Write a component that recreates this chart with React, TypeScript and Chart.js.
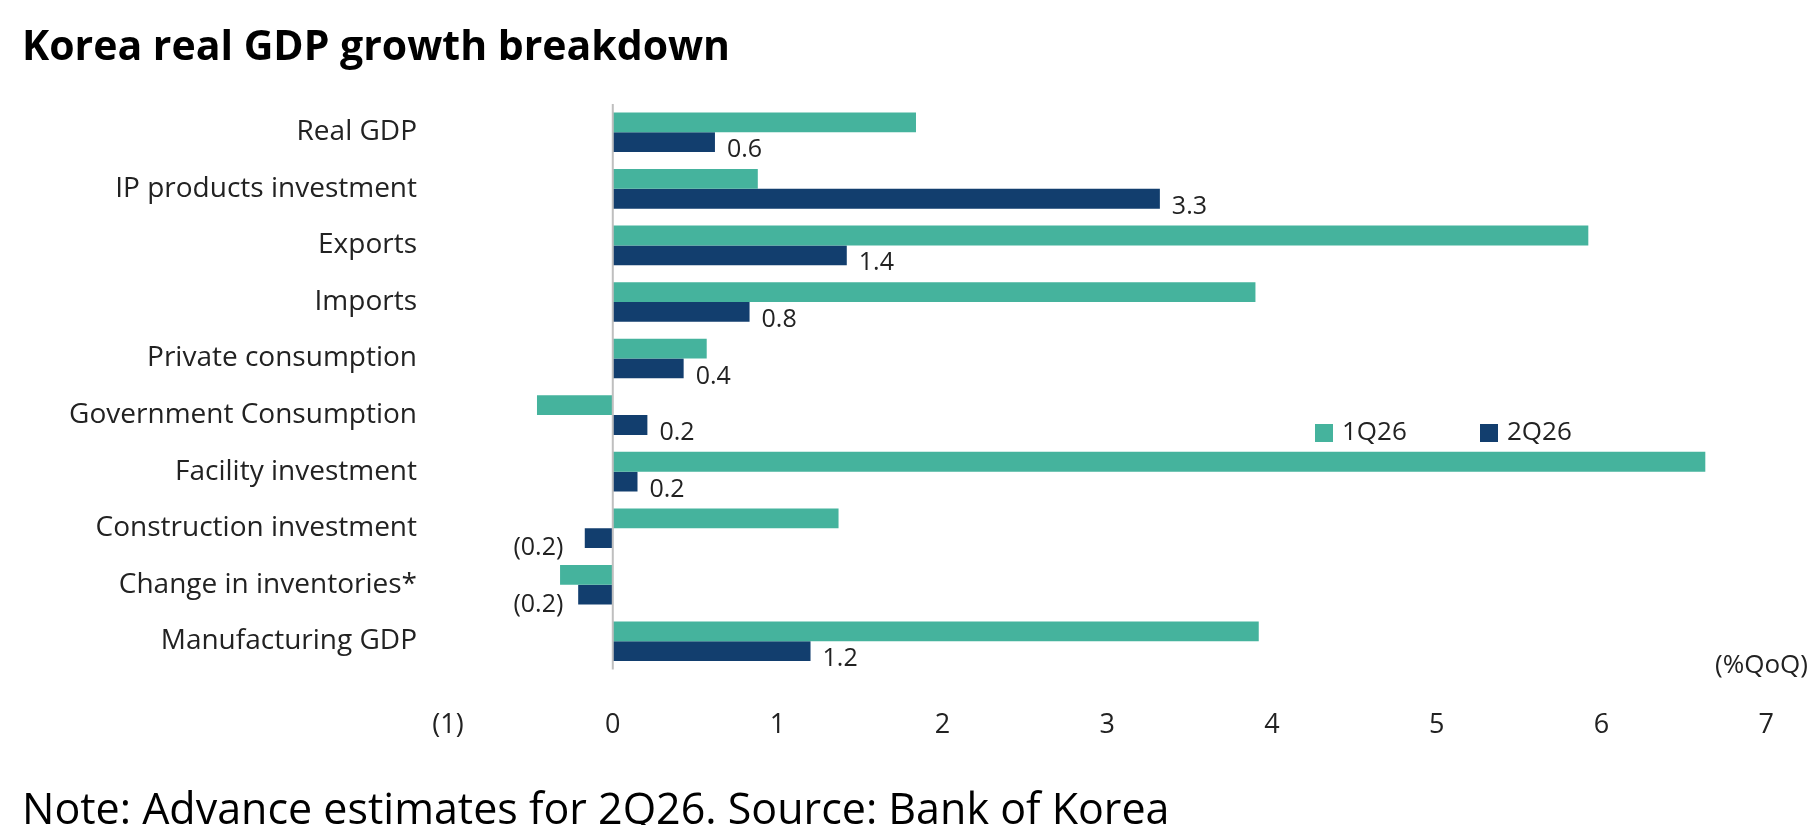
import React, { useEffect, useRef } from "react";
import { Chart, registerables } from "chart.js";
Chart.register(...registerables);

const categories = ["Real GDP", "IP products investment", "Exports", "Imports", "Private consumption", "Government Consumption", "Facility investment", "Construction investment", "Change in inventories*", "Manufacturing GDP"];
const q1Values = [1.84, 0.88, 5.92, 3.9, 0.57, -0.46, 6.63, 1.37, -0.32, 3.92];
const q2Values = [0.62, 3.32, 1.42, 0.83, 0.43, 0.21, 0.15, -0.17, -0.21, 1.2];
const q2Labels = ["0.6", "3.3", "1.4", "0.8", "0.4", "0.2", "0.2", "(0.2)", "(0.2)", "1.2"];
const xTicks = ["(1)", "0", "1", "2", "3", "4", "5", "6", "7"];
const TEAL = "#45B39D";
const NAVY = "#123E6E";
const FONT = "'Open Sans', 'Noto Sans', sans-serif";

export default function App() {
  const ref = useRef<HTMLCanvasElement>(null);
  useEffect(() => {
    const deco = {
      id: "deco",
      afterDraw(chart: any) {
        const ctx = chart.ctx;
        const y = chart.scales.y;
        const x = chart.scales.x;
        ctx.save();
        ctx.fillStyle = "#000";
        ctx.font = `bold 41px ${FONT}`;
        ctx.textBaseline = "middle";
        ctx.textAlign = "left";
        ctx.fillText("Korea real GDP growth breakdown", 22, 48);
        ctx.font = `43px ${FONT}`;
        ctx.fillText("Note: Advance estimates for 2Q26. Source: Bank of Korea", 22, 812);
        ctx.font = `28px ${FONT}`;
        ctx.fillStyle = "#222";
        ctx.textAlign = "right";
        categories.forEach((c, i) => ctx.fillText(c, 417, y.getPixelForValue(i)));
        ctx.font = `26px ${FONT}`;
        ctx.fillText("(%QoQ)", 1808, 666);
        // zero line
        ctx.strokeStyle = "#bfbfbf";
        ctx.lineWidth = 2;
        const x0 = x.getPixelForValue(0);
        ctx.beginPath();
        ctx.moveTo(x0, chart.chartArea.top);
        ctx.lineTo(x0, chart.chartArea.bottom);
        ctx.stroke();
        // data labels
        const meta = chart.getDatasetMeta(1);
        ctx.font = `25px ${FONT}`;
        meta.data.forEach((bar: any, i: number) => {
          const v = q2Values[i];
          if (v >= 0) {
            ctx.textAlign = "left";
            ctx.fillText(q2Labels[i], bar.x + 12, bar.y + 8);
          } else {
            ctx.textAlign = "right";
            ctx.fillText(q2Labels[i], x.getPixelForValue(-0.3), bar.y + 10);
          }
        });
        // legend
        ctx.textAlign = "left";
        ctx.font = `26px ${FONT}`;
        ctx.fillStyle = TEAL;
        ctx.fillRect(1315, 424, 18, 18);
        ctx.fillStyle = "#222";
        ctx.fillText("1Q26", 1342, 433);
        ctx.fillStyle = NAVY;
        ctx.fillRect(1480, 424, 18, 18);
        ctx.fillStyle = "#222";
        ctx.fillText("2Q26", 1507, 433);
        ctx.restore();
      },
    };
    const chart = new Chart(ref.current!, {
      type: "bar",
      data: {
        labels: categories,
        datasets: [
          { label: "1Q26", data: q1Values, backgroundColor: TEAL, barPercentage: 1, categoryPercentage: 0.7 },
          { label: "2Q26", data: q2Values, backgroundColor: NAVY, barPercentage: 1, categoryPercentage: 0.7 },
        ],
      },
      options: {
        indexAxis: "y",
        animation: false,
        responsive: false,
        layout: { padding: { left: 448, right: 22, top: 104, bottom: 43 } },
        plugins: { legend: { display: false }, tooltip: { enabled: false } },
        scales: {
          x: {
            min: -1, max: 7,
            grid: { display: false, drawTicks: false },
            border: { display: false },
            ticks: { stepSize: 1, padding: 40, color: "#222", font: { size: 27, family: FONT }, callback: (_v: any, i: number) => xTicks[i] },
          },
          y: { display: false },
        },
      },
      plugins: [deco],
    });
    return () => chart.destroy();
  }, []);
  return (
    <div style={{ position: "fixed", left: 0, top: 0, width: 1814, height: 825, background: "#fff" }}>
      <canvas ref={ref} width={1814} height={825} />
    </div>
  );
}
